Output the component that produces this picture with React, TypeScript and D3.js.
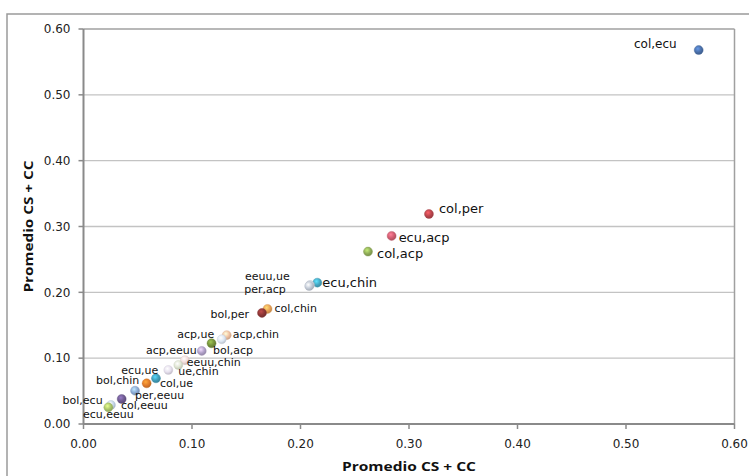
import React from "react";
import * as d3 from "d3";

const pointLabels = ["col,ecu","col,per","ecu,acp","col,acp","ecu,chin","eeuu,ue","per,acp","col,chin","bol,per","acp,chin","acp,ue","bol,acp","acp,eeuu","eeuu,chin","ue,chin","ecu,ue","col,ue","bol,chin","per,eeuu","col,eeuu","bol,ecu","ecu,eeuu"];
const xValues = [0.567,0.3184,0.284,0.2622,0.2155,0.2088,0.2080,0.1696,0.1645,0.132,0.1274,0.118,0.109,0.0935,0.0874,0.0782,0.0668,0.0582,0.0475,0.0352,0.0253,0.0229];
const yValues = [0.568,0.319,0.2857,0.2619,0.2147,0.2112,0.2095,0.1748,0.1687,0.135,0.1287,0.1226,0.111,0.097,0.0896,0.082,0.0694,0.0618,0.0506,0.038,0.0289,0.0253];
const xTicks = [0, 0.1, 0.2, 0.3, 0.4, 0.5, 0.6];
const yTicks = [0, 0.1, 0.2, 0.3, 0.4, 0.5, 0.6];
const xTitle = "Promedio CS + CC";
const yTitle = "Promedio CS + CC";

// styling (not data)
const colors = ["#4a6fa8","#b8454c","#cf5d70","#8eab57","#45a6c2","#c9d2de","#c4ccd8","#e8a055","#8c3636","#f0c0a0","#dde7f3","#74913c","#b0a0c8","#f2dcdb","#dfe5d2","#e6e0ee","#3f9cb8","#e07a2a","#8aa8d2","#6e5a90","#c5d6ea","#a9c46a"];
const labelPlacement: [string, number, number, number][] = [
  ["end", -22, -6, 12],
  ["start", 10, -5.7, 13],
  ["start", 7, 1.3, 13],
  ["start", 9, 1.7, 13],
  ["start", 5, 0, 13],
  ["start", -65, -8.5, 11],
  ["start", -65, 2.5, 11],
  ["start", 7, -0.5, 11],
  ["end", -13, 1.5, 11],
  ["start", 6, -0.7, 11],
  ["end", -7.5, -5, 11],
  ["start", 1.5, 6.7, 11],
  ["end", -5, -0.7, 11],
  ["start", 1.7, 2, 11],
  ["start", 0, 5.7, 11],
  ["end", -10, 0, 11],
  ["start", 4, 4.4, 11],
  ["end", -7.4, -3.3, 11],
  ["start", 0, 4, 11],
  ["start", -0.7, 5.7, 11],
  ["end", -8.3, -5, 11],
  ["middle", 0, 7, 11],
];

export default function App() {
  const W = 749, H = 476;
  const left = 83.5, right = 734.5, top = 29, bottom = 424;
  const x = d3.scaleLinear().domain([0, 0.6]).range([left, right]);
  const y = d3.scaleLinear().domain([0, 0.6]).range([bottom, top]);
  const fmt = d3.format(".2f");
  const font = "'DejaVu Sans', Verdana, sans-serif";
  const titleFont = "'Open Sans', 'Liberation Sans', sans-serif";
  const pts = pointLabels.map((l, i) => ({ l, x: xValues[i], y: yValues[i], c: colors[i], p: labelPlacement[i] }));
  return (
    <div style={{ position: "fixed", left: 0, top: 0 }}>
      <svg width={W} height={H} style={{ display: "block", background: "#fff" }}>
        <defs>
          {pts.map((d, i) => {
            const c = d3.color(d.c)!;
            return (
              <radialGradient key={i} id={`g${i}`} cx="40%" cy="35%" r="65%">
                <stop offset="0%" stopColor={d3.color(d.c)!.brighter(0.9).formatHex()} />
                <stop offset="60%" stopColor={c.formatHex()} />
                <stop offset="100%" stopColor={c.darker(0.5).formatHex()} />
              </radialGradient>
            );
          })}
        </defs>
        <rect x={7} y={14} width={W} height={H} fill="#fff" stroke="#9a9a9a" strokeWidth={1.5} />
        {yTicks.filter(t => t > 0 && t < 0.6).map(t => (
          <line key={t} x1={left} x2={right} y1={y(t)} y2={y(t)} stroke="#c3c3c3" strokeWidth={1.3} />
        ))}
        <line x1={left} x2={right} y1={top} y2={top} stroke="#a0a0a0" strokeWidth={1.5} />
        <line x1={right} x2={right} y1={top} y2={bottom} stroke="#a0a0a0" strokeWidth={1.5} />
        <line x1={left} x2={left} y1={top} y2={bottom} stroke="#8a8a8a" strokeWidth={2} />
        <line x1={left} x2={right} y1={bottom} y2={bottom} stroke="#8a8a8a" strokeWidth={2} />
        {yTicks.map(t => (
          <g key={t}>
            <line x1={left - 5} x2={left} y1={y(t)} y2={y(t)} stroke="#8a8a8a" strokeWidth={1.5} />
            <text x={70.5} y={y(t)} dy="0.36em" textAnchor="end" fontFamily={font} fontSize={12} fill="#222">{fmt(t)}</text>
          </g>
        ))}
        {xTicks.map(t => (
          <g key={t}>
            <line x1={x(t)} x2={x(t)} y1={bottom} y2={bottom + 5} stroke="#8a8a8a" strokeWidth={1.5} />
            <text x={x(t)} y={444} dy="0.36em" textAnchor="middle" fontFamily={font} fontSize={12} fill="#222">{fmt(t)}</text>
          </g>
        ))}
        <text x={(left + right) / 2} y={466} dy="0.36em" textAnchor="middle" fontFamily={titleFont} fontWeight="bold" fontSize={13} fill="#111" textLength={134} lengthAdjust="spacingAndGlyphs">{xTitle}</text>
        <text transform={`translate(28,${(top + bottom) / 2}) rotate(-90)`} dy="0.36em" textAnchor="middle" fontFamily={titleFont} fontWeight="bold" fontSize={13} fill="#111" textLength={132} lengthAdjust="spacingAndGlyphs">{yTitle}</text>
        {pts.map((d, i) => (
          <circle key={i} cx={x(d.x)} cy={y(d.y)} r={4.5} fill={`url(#g${i})`} stroke={d3.color(d.c)!.darker(0.3).formatHex()} strokeWidth={0.4} />
        ))}
        {pts.map((d, i) => (
          <text key={i} x={x(d.x) + d.p[1]} y={y(d.y) + d.p[2]} dy="0.36em" textAnchor={d.p[0]} fontFamily={font} fontSize={d.p[3]} fill="#111">{d.l}</text>
        ))}
      </svg>
    </div>
  );
}
